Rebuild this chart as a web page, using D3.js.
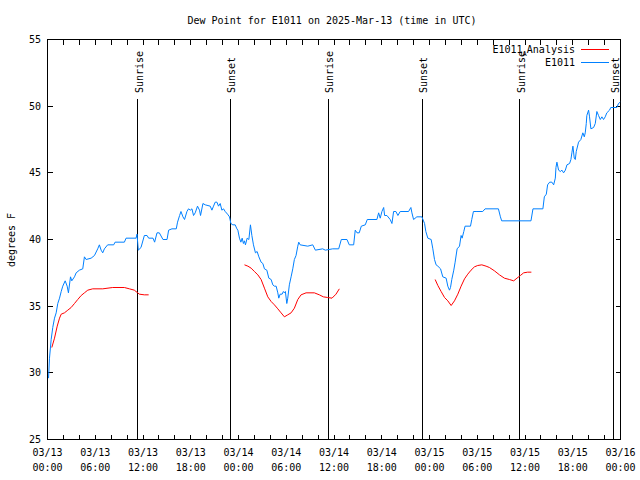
<!DOCTYPE html>
<html>
<head>
<meta charset="utf-8">
<script src="https://cdn.jsdelivr.net/npm/d3@7"></script>
<style>
  html, body { margin: 0; padding: 0; background: #fff; }
  svg { display: block; }
  text { font-family: "DejaVu Sans Mono", "Liberation Mono", monospace; font-size: 10px; fill: #000; }
</style>
</head>
<body>
<svg id="chart" width="640" height="480"></svg>
<script>
// ---------- data (hours after 2025-03-13 00:00 UTC) ----------
const chartTitle = "Dew Point for E1011 on 2025-Mar-13 (time in UTC)";
const yAxisTitle = "degrees F";
const yTickValues = [25, 30, 35, 40, 45, 50, 55];

const obsHours = [0.13,0.25,0.46,0.66,0.88,1.09,1.29,1.51,1.72,1.92,2.22,2.47,2.63,2.89,3.05,3.39,3.60,4.01,4.43,4.64,4.85,5.48,5.90,6.31,6.52,6.74,6.94,7.15,7.56,8.32,8.49,9.66,9.87,11.13,11.25,11.41,11.75,12.17,12.51,12.71,13.26,13.46,13.76,14.05,14.51,15.02,15.22,15.64,16.18,16.34,16.60,16.77,17.02,17.22,17.52,17.72,17.94,18.15,18.35,18.56,18.85,19.10,19.23,19.53,19.82,20.45,20.66,20.86,21.07,21.29,21.49,21.70,21.91,22.12,22.33,22.62,22.87,23.04,23.29,23.58,23.80,23.92,24.12,24.30,24.46,24.62,24.75,24.87,25.09,25.30,25.50,25.68,25.88,26.13,26.34,26.56,26.84,27.06,27.26,27.56,27.81,28.10,28.31,28.51,28.73,28.94,29.06,29.23,29.48,29.64,29.77,29.89,30.07,30.19,30.39,30.61,30.82,31.02,31.23,31.45,31.57,31.74,32.70,33.33,33.66,34.58,34.91,35.84,36.59,36.92,37.63,37.92,38.47,38.67,38.89,39.17,39.43,39.93,40.18,41.39,41.61,41.81,42.02,42.24,42.36,42.65,43.06,43.28,43.49,43.78,44.03,44.32,45.37,45.66,45.79,46.00,46.41,47.04,47.38,47.54,47.79,48.21,48.42,48.63,48.83,49.05,49.39,49.67,50.09,50.30,50.51,50.64,50.80,51.05,51.22,51.47,51.77,51.97,52.10,52.31,52.47,53.15,53.31,53.52,53.85,54.69,54.98,56.66,56.91,57.07,60.75,61.00,62.25,62.43,62.68,62.84,63.10,63.38,63.60,63.81,63.89,64.01,64.22,64.44,64.64,64.85,65.07,65.27,65.60,65.77,65.89,66.02,66.19,66.32,66.44,66.73,67.02,67.27,67.45,67.57,67.70,67.77,67.99,68.11,68.28,68.62,68.83,69.03,69.24,69.46,69.66,69.87,70.08,70.28,70.62,70.78,71.54,71.75,71.96];
const obsValues = [29.6,31.1,32.5,33.4,34.1,34.5,35.2,35.6,36.1,36.5,36.9,36.5,36.0,37.2,36.9,37.2,37.5,37.7,37.8,38.7,38.5,38.6,38.8,39.3,39.6,39.2,39.0,39.3,39.6,39.6,39.8,39.8,40.1,40.1,40.4,39.2,39.4,40.3,40.3,40.1,40.1,39.8,40.5,40.5,40.0,40.0,40.7,40.8,40.8,41.3,41.8,42.1,41.7,41.5,42.1,42.3,42.2,42.3,41.8,42.0,42.5,42.2,41.8,42.7,42.6,42.5,42.2,42.5,42.8,42.8,42.5,42.7,42.2,42.3,42.1,41.9,41.7,41.2,41.1,41.1,40.8,40.7,40.1,39.8,40.1,39.7,39.9,39.6,40.1,40.0,41.1,40.3,39.6,39.0,39.1,38.7,38.3,38.2,37.8,37.7,37.1,37.0,36.6,36.5,36.5,36.0,35.6,35.9,35.9,36.1,36.0,36.1,35.2,35.6,36.6,37.2,37.8,38.5,38.8,39.5,39.8,39.6,39.5,39.6,39.2,39.3,39.2,39.3,39.3,40.0,40.0,39.6,39.6,40.7,40.5,40.5,41.0,41.1,41.5,41.5,42.0,41.6,42.1,42.4,41.8,41.8,41.5,41.2,42.1,42.1,41.8,42.1,42.1,42.4,42.0,41.5,41.7,41.7,41.2,40.6,40.1,40.0,39.3,38.5,38.1,38.0,37.8,37.2,37.1,36.5,36.2,36.4,37.0,37.7,38.3,39.3,39.5,40.3,40.1,40.6,41.0,41.0,41.5,42.1,42.1,42.1,42.3,42.3,41.7,41.4,41.4,42.3,42.3,43.2,43.4,44.1,44.3,44.3,44.1,44.6,45.4,45.8,45.2,45.1,45.2,45.0,45.2,45.6,45.7,46.0,46.5,47.0,46.1,46.0,46.6,47.3,47.5,48.0,47.7,48.0,48.7,49.3,49.7,49.2,48.3,48.4,48.7,49.6,49.3,49.0,49.2,49.0,49.2,49.5,49.7,49.9,49.9,50.2,50.3];

// analysis series, null = gap
const anaHours = [0.54,0.88,1.22,1.51,1.72,2.13,2.55,2.97,3.39,3.80,4.23,4.64,5.06,5.68,6.94,8.19,9.66,10.29,10.91,11.54,12.17,12.71,
  null,
  24.75,25.18,25.59,26.00,26.43,26.84,27.26,27.68,28.10,28.51,28.94,29.35,29.77,30.19,30.61,31.02,31.45,31.86,32.49,33.53,34.16,34.66,35.21,35.75,36.25,36.67,
  null,
  48.71,49.05,49.46,49.89,50.30,50.72,51.14,51.56,51.97,52.40,52.81,53.22,53.65,54.06,54.57,55.11,55.53,56.16,56.79,57.41,58.04,58.58,58.99,59.42,59.83,60.33,60.80];
const anaValues = [31.9,32.6,33.5,34.1,34.4,34.5,34.7,34.9,35.2,35.5,35.8,36.0,36.2,36.3,36.3,36.4,36.4,36.3,36.2,35.9,35.85,35.85,
  null,
  38.1,38.0,37.85,37.6,37.35,37.0,36.35,35.7,35.35,35.1,34.8,34.5,34.2,34.35,34.5,34.85,35.5,35.85,36.0,36.0,35.85,35.7,35.65,35.6,35.9,36.3,
  null,
  37.0,36.55,36.1,35.65,35.4,35.05,35.4,35.9,36.5,37.05,37.4,37.7,37.95,38.05,38.1,38.0,37.9,37.65,37.35,37.1,37.0,36.9,37.1,37.3,37.5,37.55,37.55];

const sunHours = [11.33, 22.99, 35.29, 47.08, 59.33, 71.16];
const sunLabels = ["Sunrise", "Sunset", "Sunrise", "Sunset", "Sunrise", "Sunset"];

const seriesNames = ["E1011", "Analysis", "E1011"]; // legend pieces
const seriesColors = { analysis: "#ff0000", obs: "#0080ff" };

// ---------- drawing ----------
const base = Date.UTC(2025, 2, 13, 0, 0);
const toDate = h => new Date(base + h * 3600e3);

const svg = d3.select("#chart");
const L = 47.5, R = 620.5, T = 39.5, B = 439.5;

const x = d3.scaleUtc().domain([toDate(0), toDate(72)]).range([L, R]);
const y = d3.scaleLinear().domain([25, 55]).range([B, T]);
const px = v => Math.round(v - 0.5) + 0.5;

const g = svg.append("g").attr("shape-rendering", "crispEdges");

// ticks (inward, on all four sides)
const xTicks = x.ticks(d3.utcHour.every(2));
const innerY = yTickValues.filter(v => v > 25 && v < 55);
g.selectAll(".xtb").data(xTicks).join("line")
  .attr("x1", d => px(x(d))).attr("x2", d => px(x(d)))
  .attr("y1", B).attr("y2", B - 5).attr("stroke", "#000");
g.selectAll(".xtt").data(xTicks).join("line")
  .attr("x1", d => px(x(d))).attr("x2", d => px(x(d)))
  .attr("y1", T).attr("y2", T + 5).attr("stroke", "#000");
g.selectAll(".ytl").data(innerY).join("line")
  .attr("x1", L).attr("x2", L + 5)
  .attr("y1", d => px(y(d))).attr("y2", d => px(y(d))).attr("stroke", "#000");
g.selectAll(".ytr").data(innerY).join("line")
  .attr("x1", R).attr("x2", R - 5)
  .attr("y1", d => px(y(d))).attr("y2", d => px(y(d))).attr("stroke", "#000");

// y tick labels
svg.selectAll(".ylab").data(yTickValues).join("text")
  .attr("x", 41).attr("y", d => y(d) + 3.5)
  .attr("text-anchor", "end").text(d => d);

// x tick labels every 6 hours
const xLabelTicks = x.ticks(d3.utcHour.every(6));
const fmtDay = d3.utcFormat("%m/%d"), fmtTime = d3.utcFormat("%H:%M");
const xl = svg.selectAll(".xlab").data(xLabelTicks).join("text")
  .attr("text-anchor", "middle");
xl.append("tspan").attr("x", d => x(d)).attr("y", 456).text(d => fmtDay(d));
xl.append("tspan").attr("x", d => x(d)).attr("y", 471).text(d => fmtTime(d));

// sunrise / sunset lines
g.selectAll(".sun").data(sunHours).join("line")
  .attr("x1", d => px(x(toDate(d)))).attr("x2", d => px(x(toDate(d))))
  .attr("y1", B).attr("y2", 99).attr("stroke", "#000");
svg.selectAll(".sunlab").data(sunHours).join("text")
  .attr("transform", d => `translate(${Math.round(x(toDate(d))) + 5},93) rotate(-90)`)
  .attr("text-anchor", "start").text((d, i) => sunLabels[i]);

// lines
const anaData = anaHours.map((h, i) => ({ h, v: anaValues[i] }));
const obsData = obsHours.map((h, i) => ({ h, v: obsValues[i] }));
const line = d3.line().defined(d => d.h != null && d.v != null)
  .x(d => x(toDate(d.h))).y(d => y(d.v));

svg.append("path").datum(anaData).attr("d", line)
  .attr("fill", "none").attr("stroke", seriesColors.analysis).attr("stroke-width", 1);
svg.append("path").datum(obsData).attr("d", line)
  .attr("fill", "none").attr("stroke", seriesColors.obs).attr("stroke-width", 1);

// frame
g.append("rect").attr("x", L).attr("y", T).attr("width", R - L).attr("height", B - T)
  .attr("fill", "none").attr("stroke", "#000");

// legend
const leg1 = svg.append("text").attr("x", 575).attr("y", 53).attr("text-anchor", "end");
leg1.append("tspan").text(seriesNames[0]);
leg1.append("tspan").attr("font-size", "7px").attr("dy", 3).text("A");
leg1.append("tspan").attr("dy", -3).text(seriesNames[1]);
svg.append("line").attr("x1", 581).attr("x2", 609).attr("y1", 49.5).attr("y2", 49.5)
  .attr("stroke", seriesColors.analysis).attr("shape-rendering", "crispEdges");
svg.append("text").attr("x", 575).attr("y", 66).attr("text-anchor", "end").text(seriesNames[2]);
svg.append("line").attr("x1", 581).attr("x2", 609).attr("y1", 62.5).attr("y2", 62.5)
  .attr("stroke", seriesColors.obs).attr("shape-rendering", "crispEdges");

// titles
svg.append("text").attr("x", 332).attr("y", 24).attr("text-anchor", "middle").text(chartTitle);
svg.append("text").attr("transform", "translate(15,240) rotate(-90)")
  .attr("text-anchor", "middle").text(yAxisTitle);
</script>
</body>
</html>
